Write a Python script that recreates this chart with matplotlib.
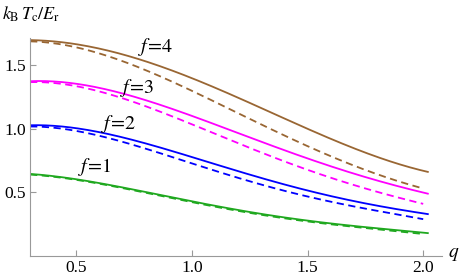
import matplotlib
matplotlib.use("Agg")
import matplotlib.pyplot as plt
import numpy as np

plt.rcParams["mathtext.fontset"] = "stix"
plt.rcParams["font.family"] = ["Liberation Serif", "DejaVu Serif"]

qGrid = np.array([0.3, 0.5, 0.75, 1.0, 1.25, 1.5, 1.75, 2.02])
qDash = np.array([0.3, 0.5, 0.75, 1.0, 1.25, 1.5, 1.75, 2.0])

# solid curves
tc1 = np.array([0.645, 0.605, 0.52, 0.43, 0.345, 0.28, 0.225, 0.18])
tc2 = np.array([1.03, 1.00, 0.92, 0.77, 0.64, 0.52, 0.41, 0.33])
tc3 = np.array([1.377, 1.35, 1.26, 1.10, 0.93, 0.77, 0.62, 0.49])
tc4 = np.array([1.70, 1.665, 1.56, 1.40, 1.21, 0.99, 0.82, 0.66])

# dashed curves
tc1d = np.array([0.64, 0.60, 0.515, 0.423, 0.338, 0.273, 0.218, 0.173])
tc2d = np.array([1.02, 0.98, 0.88, 0.72, 0.59, 0.47, 0.37, 0.29])
tc3d = np.array([1.37, 1.33, 1.22, 1.03, 0.85, 0.68, 0.53, 0.41])
tc4d = np.array([1.69, 1.64, 1.50, 1.30, 1.08, 0.86, 0.68, 0.53])

colors = ["#1fa81f", "#0000ff", "#ff00ff", "#996633"]
labels = ["$f\\!=\\!1$", "$f\\!=\\!2$", "$f\\!=\\!3$", "$f\\!=\\!4$"]
labelQ = [0.58, 0.68, 0.76, 0.84]
labelV = [0.70, 1.04, 1.32, 1.645]

def smooth(x, y, xs):
    # polynomial through the read points, just for a smooth look
    p = np.polyfit(x, y, 4)
    return np.polyval(p, xs)

fig = plt.figure(figsize=(4.63, 2.80), dpi=100)
ax = fig.add_axes([0.065, 0.086, 0.889, 0.778])

for solid, dashed, c in zip([tc1, tc2, tc3, tc4], [tc1d, tc2d, tc3d, tc4d], colors):
    xs = np.linspace(qGrid[0], qGrid[-1], 200)
    ax.plot(xs, smooth(qGrid, solid, xs), color=c, lw=1.3)
    xd = np.linspace(qDash[0], qDash[-1], 200)
    ax.plot(xd, smooth(qDash, dashed, xd), color=c, lw=1.3, dashes=(4, 2.5))

for q, v, lab in zip(labelQ, labelV, labels):
    ax.text(q, v, lab, fontsize=14.5, ha="center", va="center")

ax.set_xlim(0.3, 2.08)
ax.set_ylim(0, 1.715)
ax.set_xticks([0.5, 1.0, 1.5, 2.0])
ax.set_yticks([0.5, 1.0, 1.5])
ax.set_xticklabels(["0.5", "1.0", "1.5", "2.0"])
ax.set_yticklabels(["0.5", "1.0", "1.5"])
for s in ["top", "right"]:
    ax.spines[s].set_visible(False)
for s in ["left", "bottom"]:
    ax.spines[s].set_color("#999999")
    ax.spines[s].set_linewidth(0.8)
ax.tick_params(direction="in", length=4, color="#999999", labelsize=12.5, pad=3)

fig.text(0.005, 0.95, "$k_\\mathrm{B}\\,T_\\mathrm{c}/E_\\mathrm{r}$", fontsize=13, va="center")
fig.text(0.968, 0.09, "$q$", fontsize=14, va="center")

fig.savefig("out.png", dpi=100)
